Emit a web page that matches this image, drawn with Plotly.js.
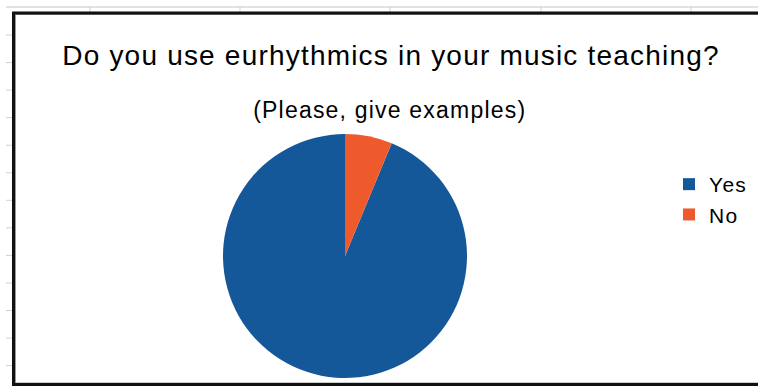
<!DOCTYPE html>
<html>
<head>
<meta charset="utf-8">
<script src="https://cdn.plot.ly/plotly-3.0.1.min.js"></script>
<style>
html,body{margin:0;padding:0;background:#fff;}
#chart{width:758px;height:387px;}
#chart .gtitle{letter-spacing:1.2px;}
#chart .annotation-text{letter-spacing:1.2px;}
#chart .legendtext{letter-spacing:1.3px;}
</style>
</head>
<body>
<div id="chart"></div>
<script>
// Data
const categories = ["Yes", "No"];
const values = [15, 1];
const sliceColors = ["#155899", "#EF5A2D"];
const titleText = "Do you use eurhythmics in your music teaching?";
const subtitleText = "(Please, give examples)";

const W = 758, H = 387;
const px = x => x / W;
const py = y => 1 - y / H;

// "No" slice sits just clockwise of 12 o'clock: start "Yes" where "No" ends
const total = values.reduce((a, b) => a + b, 0);
const startAngle = 360 * values[1] / total;

// Decorative spreadsheet background and chart frame
const shapes = [];
shapes.push({type:'line', xref:'paper', yref:'paper', x0:px(6), x1:px(758), y0:py(7), y1:py(7), line:{color:'#e2e2e2', width:2}, layer:'below'});
[90, 240, 390, 541, 691].forEach(x => shapes.push({type:'line', xref:'paper', yref:'paper', x0:px(x), x1:px(x), y0:py(6), y1:py(12), line:{color:'#d0d0d0', width:1}, layer:'below'}));
for (let k = 0; k < 13; k++) {
  const y = 35 + 27.55 * k;
  shapes.push({type:'line', xref:'paper', yref:'paper', x0:px(6), x1:px(12), y0:py(y), y1:py(y), line:{color:'#d0d0d0', width:1}, layer:'below'});
}
shapes.push({type:'rect', xref:'paper', yref:'paper', x0:px(15.5), x1:px(780), y0:py(14.5), y1:py(383), line:{color:'#999', width:1}, layer:'below'});
shapes.push({type:'rect', xref:'paper', yref:'paper', x0:px(13.5), x1:px(780), y0:py(13), y1:py(384.5), line:{color:'#111', width:3}, layer:'below'});

const data = [{
  type: 'pie',
  labels: categories,
  values: values,
  marker: {colors: sliceColors, line: {width: 0}},
  sort: false,
  direction: 'clockwise',
  rotation: startAngle,
  textinfo: 'none',
  hoverinfo: 'none',
  domain: {x: [px(222), px(468)], y: [py(378), py(134)]}
}];

const layout = {
  width: W, height: H,
  margin: {l:0, r:0, t:0, b:0},
  paper_bgcolor: '#ffffff',
  font: {family: 'Liberation Sans, Arial, sans-serif', color: '#000'},
  title: {text: titleText, font: {size: 28, color: '#000', family: 'Liberation Sans, Arial, sans-serif'}, x: px(391), xanchor: 'center', y: py(55), yanchor: 'middle', xref:'paper', yref:'paper'},
  annotations: [{text: subtitleText, xref:'paper', yref:'paper', x: px(389), y: py(110), xanchor:'center', yanchor:'middle', showarrow:false, font:{size: 23, color:'#000'}}],
  showlegend: true,
  legend: {x: px(669), y: py(164), xanchor:'left', yanchor:'top', font:{size: 21, color:'#000'}, bgcolor:'rgba(0,0,0,0)', tracegroupgap: 0},
  shapes: shapes
};

Plotly.newPlot('chart', data, layout, {displayModeBar: false, staticPlot: true});
</script>
</body>
</html>
